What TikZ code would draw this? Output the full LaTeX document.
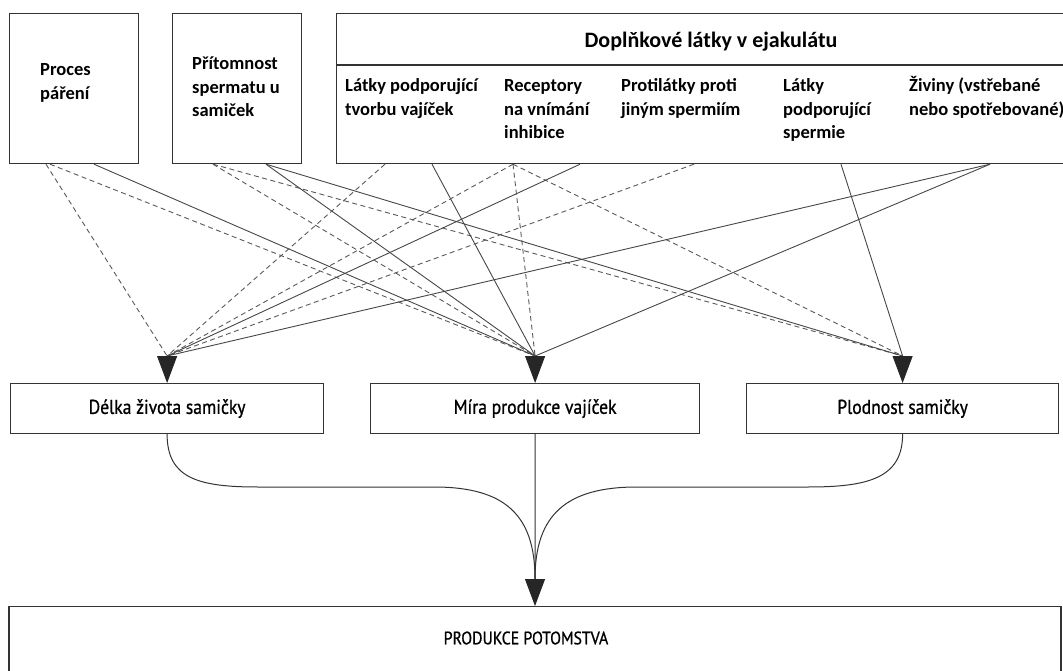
\documentclass[tikz,border=0pt]{standalone}
\usepackage{fontspec}
\setmainfont{Carlito}
\newfontfamily\condfont[FakeStretch=0.88,FakeBold=0.9]{PT Sans}
\usetikzlibrary{arrows.meta,calc}
\begin{document}
\begin{tikzpicture}[x=1pt,y=-1pt,
  box/.style={draw=black!80,line width=1.2pt,rectangle,inner sep=0pt,anchor=north west},
  toptext/.style={font=\fontsize{18.5}{23.5}\selectfont\bfseries,align=left,anchor=base west,inner sep=0pt},
  titletext/.style={font=\fontsize{22}{26}\selectfont\bfseries,inner sep=0pt,anchor=base},
  midbox/.style={draw=black!80,line width=1.2pt,rectangle,inner sep=0pt,anchor=north west,
     minimum height=50pt,font=\condfont\fontsize{20}{24}\selectfont},
  solidline/.style={draw=black!72,line width=0.9pt},
  dashline/.style={draw=black!65,line width=0.9pt,dash pattern=on 5pt off 3.5pt},
  bigarrow/.style={draw=black!85,line width=0.9pt,-{Triangle[length=27pt,width=20pt]}},
  flow/.style={draw=black!80,line width=1pt}
]
\useasboundingbox (0,0) rectangle (1063,671);
\clip (0,0) rectangle (1063,671);

% top boxes
\node[box,minimum width=129pt,minimum height=150pt] (p1) at (9,13) {};
\node[box,minimum width=129pt,minimum height=150pt] (p2) at (172,13) {};
\node[box,minimum width=760pt,minimum height=150pt] (dop) at (336,13) {};
\draw[draw=black!80,line width=1.2pt] ($(dop.north west)+(0,52)$) coordinate (dl) -- ($(dop.north east)+(0,52)$) coordinate (dr);

% texts (base anchor = baseline of the last line)
\node[toptext] (t1) at (40,99.5) {Proces\\páření};
\node[toptext] (t2) at (192,117) {Přítomnost\\spermatu u\\samiček};
\node[titletext] (tt) at (711,48) {Doplňkové látky v ejakulátu};
\node[toptext] (t3) at (345,115.5) {Látky podporující\\tvorbu vajíček};
\node[toptext] (t4) at (504,139) {Receptory\\na vnímání\\inhibice};
\node[toptext] (t5) at (621,115.5) {Protilátky proti\\jiným spermiím};
\node[toptext] (t6) at (783,139) {Látky\\podporující\\spermie};
\node[toptext] (t7) at (909,115.5) {Živiny (vstřebané\\nebo spotřebované)};

% middle boxes
\node[midbox,minimum width=313pt] (d1) at (10,383) {Délka života samičky};
\node[midbox,minimum width=329pt] (d2) at (370,383) {Míra produkce vajíček};
\node[midbox,minimum width=312pt] (d3) at (746,383) {Plodnost samičky};

% bottom box
\node[draw=black!80,line width=1.2pt,rectangle,inner sep=0pt,anchor=north,
      minimum width=1052pt,minimum height=100pt] (out) at (535,606) {};
\node[font=\condfont\fontsize{18}{22}\selectfont,inner sep=0pt] (outl) at (526,638) {PRODUKCE POTOMSTVA};

% arrow base points
\coordinate (cA) at ($(d1.north)+(0,-27)$);
\coordinate (cB) at ($(d2.north)+(0,-27)$);
\coordinate (cC) at ($(d3.north)+(0,-27)$);
\coordinate (cO) at ($(out.north)+(0,-27)$);

% source points
\coordinate (s1a) at ($(p1.south west)+(37,0)$);
\coordinate (s1b) at ($(p1.south west)+(41,0)$);
\coordinate (s1c) at ($(p1.south west)+(85,0)$);
\coordinate (s2a) at ($(p2.south west)+(41,0)$);
\coordinate (s2b) at ($(p2.south west)+(94,0)$);
\coordinate (s3) at ($(dop.south west)+(49,0)$);
\coordinate (s4) at ($(dop.south west)+(96,0)$);
\coordinate (s5) at ($(dop.south west)+(177,0)$);
\coordinate (s6) at ($(dop.south west)+(244,0)$);
\coordinate (s7) at ($(dop.south west)+(358,0)$);
\coordinate (s8) at ($(dop.south west)+(505,0)$);
\coordinate (s9) at ($(dop.south west)+(654,0)$);

% connectors
\draw[dashline] (s1a) -- (cA);
\draw[dashline] (s1b) -- (cB);
\draw[solidline] (s1c) -- (cB);
\draw[dashline] (s2a) -- (cB);
\draw[dashline] (s2a) -- (cC);
\draw[solidline] (s2b) -- (cB);
\draw[solidline] (s2b) -- (cC);
\draw[dashline] (s3) -- (cA);
\draw[solidline] (s4) -- (cB);
\draw[dashline] (s5) -- (cA);
\draw[dashline] (s5) -- (cB);
\draw[dashline] (s5) -- (cC);
\draw[solidline] (s6) -- (cA);
\draw[dashline] (s7) -- (cA);
\draw[solidline] (s8) -- (cC);
\draw[solidline] (s9) -- (cA);
\draw[solidline] (s9) -- (cB);

\draw[bigarrow] (cA) -- (d1.north);
\draw[bigarrow] (cB) -- (d2.north);
\draw[bigarrow] (cC) -- (d3.north);

% lower flow
\draw[flow] (d1.south) .. controls ($(d1.south)+(0,44)$) and (198,487) .. (258,487)
  -- (434,487) .. controls (505,487) and (535,515) .. (cO);
\draw[flow] (d3.south) .. controls ($(d3.south)+(0,44)$) and (868,487) .. (808,487)
  -- (637,487) .. controls (566,487) and (535,515) .. (cO);
\draw[flow] (d2.south) -- (cO);
\draw[bigarrow] (cO) -- (out.north);
\end{tikzpicture}
\end{document}
